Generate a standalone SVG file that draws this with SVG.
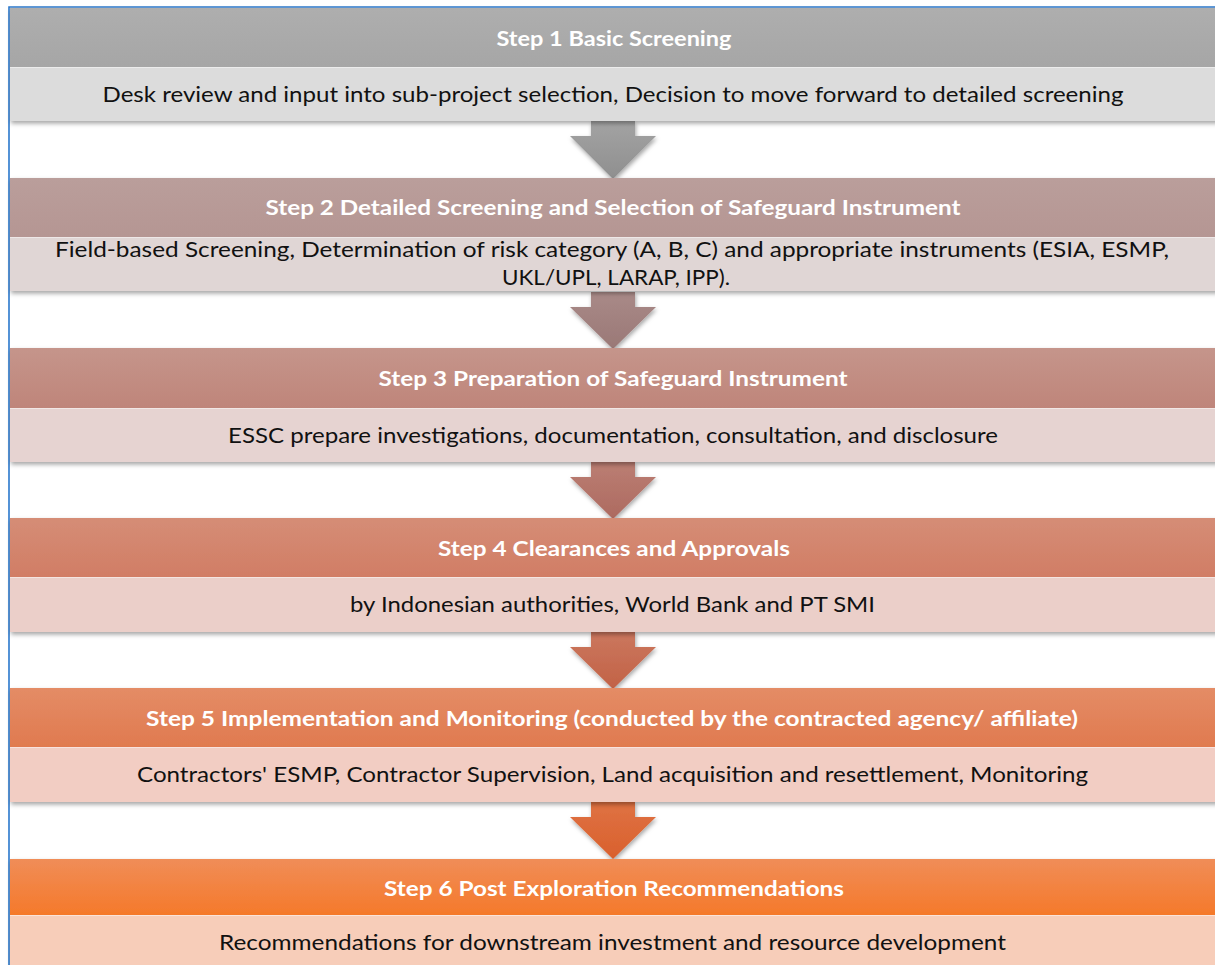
<svg xmlns="http://www.w3.org/2000/svg" width="1215" height="965" viewBox="0 0 1215 965">
  <style>
    .hdr { font-family: Lato, "Liberation Sans", sans-serif; font-weight: bold; font-size: 21.5px; fill: #ffffff; text-anchor: middle; }
    .body { font-family: Lato, "Liberation Sans", sans-serif; font-size: 22px; fill: #111111; text-anchor: middle; }
    .left { text-anchor: start; }
    .sep { stroke: #ffffff; stroke-opacity: 0.45; stroke-width: 1; }
  </style>
  <defs>
    <filter id="shadow" x="-5%" y="-20%" width="110%" height="150%">
      <feDropShadow dx="1" dy="2.5" stdDeviation="2" flood-color="#000000" flood-opacity="0.35"/>
    </filter>
    <linearGradient id="h1" x1="0" y1="0" x2="0" y2="1"><stop offset="0" stop-color="#aeaeae"/><stop offset="1" stop-color="#a6a6a6"/></linearGradient>
    <linearGradient id="h2" x1="0" y1="0" x2="0" y2="1"><stop offset="0" stop-color="#ba9e9b"/><stop offset="1" stop-color="#b59693"/></linearGradient>
    <linearGradient id="h3" x1="0" y1="0" x2="0" y2="1"><stop offset="0" stop-color="#c5958b"/><stop offset="1" stop-color="#bf857a"/></linearGradient>
    <linearGradient id="h4" x1="0" y1="0" x2="0" y2="1"><stop offset="0" stop-color="#d58d76"/><stop offset="1" stop-color="#d17d65"/></linearGradient>
    <linearGradient id="h5" x1="0" y1="0" x2="0" y2="1"><stop offset="0" stop-color="#e48c66"/><stop offset="1" stop-color="#e07a4f"/></linearGradient>
    <linearGradient id="h6" x1="0" y1="0" x2="0" y2="1"><stop offset="0" stop-color="#f08d58"/><stop offset="1" stop-color="#f5792a"/></linearGradient>
    <linearGradient id="a1" x1="0" y1="0" x2="0" y2="1"><stop offset="0" stop-color="#a3a3a3"/><stop offset="1" stop-color="#8f8f8f"/></linearGradient>
    <linearGradient id="a2" x1="0" y1="0" x2="0" y2="1"><stop offset="0" stop-color="#a98a88"/><stop offset="1" stop-color="#9a7876"/></linearGradient>
    <linearGradient id="a3" x1="0" y1="0" x2="0" y2="1"><stop offset="0" stop-color="#bb7e73"/><stop offset="1" stop-color="#ad6a60"/></linearGradient>
    <linearGradient id="a4" x1="0" y1="0" x2="0" y2="1"><stop offset="0" stop-color="#cb775e"/><stop offset="1" stop-color="#c26246"/></linearGradient>
    <linearGradient id="a5" x1="0" y1="0" x2="0" y2="1"><stop offset="0" stop-color="#df7243"/><stop offset="1" stop-color="#d9602d"/></linearGradient>
  </defs>

  <rect x="0" y="0" width="1215" height="965" fill="#ffffff"/>

  <!-- frame -->
  <g id="frame">
    <path d="M9 965 V7 H1215" fill="none" stroke="#2b78cc" stroke-width="1.6"/>
  </g>

  <!-- connectors -->
  <g id="connectors" filter="url(#shadow)">
    <path d="M591 121 H635 V136 H656 L613 179 L570 136 H591 Z" fill="url(#a1)"/>
    <path d="M591 292 H635 V307 H656 L613 349 L570 307 H591 Z" fill="url(#a2)"/>
    <path d="M591 462 H635 V477 H656 L613 519 L570 477 H591 Z" fill="url(#a3)"/>
    <path d="M591 632 H635 V647 H656 L613 689 L570 647 H591 Z" fill="url(#a4)"/>
    <path d="M591 802 H635 V817 H656 L613 859 L570 817 H591 Z" fill="url(#a5)"/>
  </g>

  <g id="step1">
    <g filter="url(#shadow)">
      <rect x="10" y="8" width="1210" height="59" fill="url(#h1)"/>
      <rect x="10" y="67" width="1210" height="54" fill="#dcdcdc"/>
    </g>
    <line class="sep" x1="10" y1="67.5" x2="1215" y2="67.5"/>
    <text class="hdr" x="614" y="46" textLength="235" lengthAdjust="spacingAndGlyphs">Step 1 Basic Screening</text>
    <text class="body" x="613" y="102" textLength="1021" lengthAdjust="spacingAndGlyphs">Desk review and input into sub-project selection, Decision to move forward to detailed screening</text>
  </g>

  <g id="step2">
    <g filter="url(#shadow)">
      <rect x="10" y="178" width="1210" height="59" fill="url(#h2)"/>
      <rect x="10" y="237" width="1210" height="54" fill="#e0d6d5"/>
    </g>
    <line class="sep" x1="10" y1="237.5" x2="1215" y2="237.5"/>
    <text class="hdr" x="613" y="215" textLength="695" lengthAdjust="spacingAndGlyphs">Step 2 Detailed Screening and Selection of Safeguard Instrument</text>
    <text class="body" x="612" y="257" textLength="1114" lengthAdjust="spacingAndGlyphs">Field-based Screening, Determination of risk category (A, B, C) and appropriate instruments (ESIA, ESMP,</text>
    <text class="body" x="616" y="285" textLength="228" lengthAdjust="spacingAndGlyphs">UKL/UPL, LARAP, IPP).</text>
  </g>

  <g id="step3">
    <g filter="url(#shadow)">
      <rect x="10" y="348" width="1210" height="60" fill="url(#h3)"/>
      <rect x="10" y="408" width="1210" height="54" fill="#e6d3d1"/>
    </g>
    <line class="sep" x1="10" y1="408.5" x2="1215" y2="408.5"/>
    <text class="hdr" x="613" y="386" textLength="469" lengthAdjust="spacingAndGlyphs">Step 3 Preparation of Safeguard Instrument</text>
    <text class="body" x="613" y="443" textLength="770" lengthAdjust="spacingAndGlyphs">ESSC prepare investigations, documentation, consultation, and disclosure</text>
  </g>

  <g id="step4">
    <g filter="url(#shadow)">
      <rect x="10" y="518" width="1210" height="59" fill="url(#h4)"/>
      <rect x="10" y="577" width="1210" height="55" fill="#ebcfc9"/>
    </g>
    <line class="sep" x1="10" y1="577.5" x2="1215" y2="577.5"/>
    <text class="hdr" x="614" y="556" textLength="352" lengthAdjust="spacingAndGlyphs">Step 4 Clearances and Approvals</text>
    <text class="body" x="612.5" y="612" textLength="525" lengthAdjust="spacingAndGlyphs">by Indonesian authorities, World Bank and PT SMI</text>
  </g>

  <g id="step5">
    <g filter="url(#shadow)">
      <rect x="10" y="688" width="1210" height="59" fill="url(#h5)"/>
      <rect x="10" y="747" width="1210" height="55" fill="#f2cdc3"/>
    </g>
    <line class="sep" x1="10" y1="747.5" x2="1215" y2="747.5"/>
    <text class="hdr" x="612" y="726" textLength="932" lengthAdjust="spacingAndGlyphs">Step 5 Implementation and Monitoring (conducted by the contracted agency/ affiliate)</text>
    <text class="body" x="612.5" y="782" textLength="951" lengthAdjust="spacingAndGlyphs">Contractors' ESMP, Contractor Supervision, Land acquisition and resettlement, Monitoring</text>
  </g>

  <g id="step6">
    <g filter="url(#shadow)">
      <rect x="10" y="859" width="1210" height="56" fill="url(#h6)"/>
      <rect x="10" y="915" width="1210" height="60" fill="#f7cdb9"/>
    </g>
    <line class="sep" x1="10" y1="915.5" x2="1215" y2="915.5"/>
    <text class="hdr" x="614" y="896" textLength="460" lengthAdjust="spacingAndGlyphs">Step 6 Post Exploration Recommendations</text>
    <text class="body" x="612.5" y="950" textLength="787" lengthAdjust="spacingAndGlyphs">Recommendations for downstream investment and resource development</text>
  </g>
</svg>
